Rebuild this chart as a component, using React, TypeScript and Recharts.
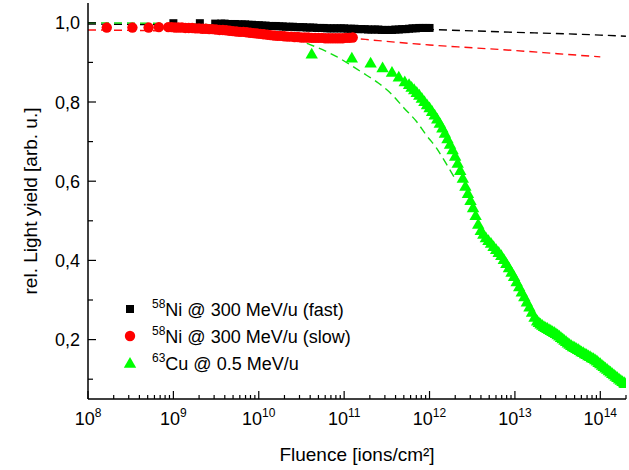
import React from "react";
import { ComposedChart, Scatter, Line, XAxis, YAxis } from "recharts";

// Light-yield degradation vs. fluence. Fluence values are kept as log10 exponents
// (read off the log axis) and turned into real fluences for the log scale.

const FONT = "Liberation Sans, Arial, Helvetica, sans-serif";

// 58Ni @ 300 MeV/u (fast)
const fastLogF = [
  9.0, 9.31, 9.49, 9.56, 9.6, 9.64, 9.68, 9.72, 9.76, 9.8, 9.84, 9.88, 9.92, 9.96, 10.0,
  10.04, 10.08, 10.12, 10.16, 10.2, 10.24, 10.28, 10.32, 10.36, 10.4, 10.44, 10.48, 10.52,
  10.56, 10.6, 10.64, 10.68, 10.72, 10.76, 10.8, 10.84, 10.88, 10.92, 10.96, 11.0, 11.04,
  11.08, 11.12, 11.16, 11.2, 11.24, 11.28, 11.32, 11.36, 11.4, 11.44, 11.48, 11.52, 11.56,
  11.6, 11.64, 11.68, 11.72, 11.76, 11.8, 11.84, 11.88, 11.92, 11.96, 12.0,
];
const fastYield = [
  0.999, 0.999, 0.998, 0.998, 0.998, 0.997, 0.997, 0.997, 0.996, 0.996, 0.996, 0.995, 0.995,
  0.994, 0.994, 0.993, 0.993, 0.992, 0.992, 0.992, 0.991, 0.991, 0.99, 0.99, 0.99, 0.989,
  0.989, 0.989, 0.988, 0.988, 0.988, 0.987, 0.987, 0.987, 0.986, 0.986, 0.986, 0.986, 0.986,
  0.986, 0.985, 0.985, 0.985, 0.984, 0.984, 0.984, 0.983, 0.983, 0.983, 0.983, 0.982, 0.982,
  0.982, 0.982, 0.983, 0.983, 0.984, 0.984, 0.985, 0.986, 0.986, 0.987, 0.987, 0.987, 0.987,
];

// 58Ni @ 300 MeV/u (slow)
const slowLogF = [
  8.22, 8.52, 8.71, 8.83, 8.94, 8.98, 9.02, 9.06, 9.1, 9.14, 9.18, 9.22, 9.26, 9.3, 9.34,
  9.38, 9.42, 9.46, 9.5, 9.54, 9.58, 9.62, 9.66, 9.7, 9.74, 9.78, 9.82, 9.86, 9.9, 9.94,
  9.98, 10.02, 10.06, 10.1, 10.14, 10.18, 10.22, 10.26, 10.3, 10.34, 10.38, 10.42, 10.46,
  10.5, 10.54, 10.58, 10.62, 10.66, 10.7, 10.74, 10.78, 10.82, 10.86, 10.9, 10.94, 10.98,
  11.02, 11.06, 11.1,
];
const slowYield = [
  0.988, 0.988, 0.988, 0.989, 0.989, 0.989, 0.988, 0.988, 0.988, 0.987, 0.987, 0.987, 0.986,
  0.986, 0.985, 0.985, 0.984, 0.984, 0.983, 0.982, 0.982, 0.981, 0.98, 0.979, 0.978, 0.977,
  0.977, 0.976, 0.975, 0.974, 0.973, 0.972, 0.971, 0.97, 0.969, 0.968, 0.967, 0.967, 0.966,
  0.965, 0.965, 0.964, 0.964, 0.963, 0.963, 0.963, 0.962, 0.962, 0.962, 0.962, 0.961, 0.961,
  0.961, 0.961, 0.961, 0.961, 0.962, 0.962, 0.963,
];

// 63Cu @ 0.5 MeV/u
const cuLogF = [
  10.62, 11.09, 11.31, 11.45, 11.56, 11.64, 11.71, 11.76, 11.79, 11.82, 11.85, 11.88, 11.91,
  11.94, 11.97, 12.0, 12.03, 12.06, 12.09, 12.12, 12.15, 12.18, 12.21, 12.24, 12.27, 12.3,
  12.33, 12.36, 12.39, 12.42, 12.45, 12.48, 12.51, 12.54, 12.57, 12.6, 12.63, 12.66, 12.69,
  12.72, 12.75, 12.78, 12.81, 12.84, 12.87, 12.9, 12.93, 12.96, 12.99, 13.02, 13.05, 13.08,
  13.11, 13.14, 13.17, 13.2, 13.23, 13.26, 13.28, 13.3, 13.32, 13.34, 13.36, 13.38, 13.4,
  13.42, 13.44, 13.46, 13.48, 13.5, 13.52, 13.54, 13.56, 13.58, 13.6, 13.62, 13.64, 13.66,
  13.68, 13.7, 13.72, 13.74, 13.76, 13.78, 13.8, 13.82, 13.84, 13.86, 13.88, 13.9, 13.92,
  13.94, 13.96, 13.98, 14.0, 14.02, 14.04, 14.06, 14.08, 14.1, 14.12, 14.14, 14.16, 14.18,
  14.2, 14.22, 14.24, 14.26, 14.28, 14.29,
];
const cuYield = [
  0.922, 0.912, 0.899, 0.887, 0.876, 0.864, 0.852, 0.845, 0.838, 0.832, 0.825, 0.818, 0.81,
  0.802, 0.794, 0.786, 0.777, 0.768, 0.758, 0.747, 0.735, 0.722, 0.708, 0.694, 0.68, 0.664,
  0.646, 0.628, 0.608, 0.588, 0.57, 0.552, 0.534, 0.514, 0.492, 0.476, 0.467, 0.458, 0.451,
  0.444, 0.436, 0.428, 0.421, 0.413, 0.403, 0.393, 0.382, 0.371, 0.36, 0.347, 0.334, 0.321,
  0.309, 0.296, 0.283, 0.27, 0.257, 0.248, 0.244, 0.24, 0.237, 0.234, 0.231, 0.229, 0.226,
  0.224, 0.221, 0.219, 0.216, 0.213, 0.21, 0.206, 0.203, 0.199, 0.196, 0.192, 0.189, 0.186,
  0.183, 0.181, 0.178, 0.176, 0.173, 0.17, 0.168, 0.165, 0.163, 0.16, 0.158, 0.155, 0.153,
  0.15, 0.147, 0.143, 0.14, 0.136, 0.133, 0.129, 0.126, 0.122, 0.119, 0.115, 0.112, 0.108,
  0.105, 0.101, 0.098, 0.095, 0.092, 0.09,
];

// dashed fit curves
const fitFastLogF = [8, 9, 10, 11, 12, 13, 14, 14.3];
const fitFastYield = [0.997, 0.995, 0.992, 0.988, 0.983, 0.976, 0.969, 0.966];
const fitSlowLogF = [8, 9, 10, 11, 11.4, 12, 12.5, 13, 13.5, 14];
const fitSlowYield = [0.982, 0.979, 0.973, 0.963, 0.955, 0.944, 0.937, 0.93, 0.922, 0.914];
const fitCuLogF = [8, 9, 9.5, 10, 10.3, 10.6, 10.9, 11.2, 11.4, 11.55, 11.7, 11.85, 11.96, 12.08, 12.19, 12.3];
const fitCuYield = [1.0, 0.998, 0.994, 0.982, 0.966, 0.945, 0.916, 0.876, 0.848, 0.821, 0.785, 0.75, 0.717, 0.684, 0.646, 0.606];

const xMajorExp = [8, 9, 10, 11, 12, 13, 14];
const yTicks = [0.1, 0.2, 0.3, 0.4, 0.5, 0.6, 0.7, 0.8, 0.9, 1.0];

const toPoints = (lf: number[], ys: number[]) => lf.map((e, i) => ({ x: 10 ** e, y: ys[i] }));

const fastPts = toPoints(fastLogF, fastYield);
const slowPts = toPoints(slowLogF, slowYield);
const cuPts = toPoints(cuLogF, cuYield);
const fitFast = toPoints(fitFastLogF, fitFastYield);
const fitSlow = toPoints(fitSlowLogF, fitSlowYield);
const fitCu = toPoints(fitCuLogF, fitCuYield);

const X_DOMAIN: [number, number] = [1e8, 2e14];
const xTicks: number[] = [];
xMajorExp.forEach((n) => {
  for (let k = 1; k <= 9; k++) {
    const v = k * 10 ** n;
    if (v <= X_DOMAIN[1]) xTicks.push(v);
  }
});

const isMajorX = (v: number) => Math.abs(Math.log10(v) - Math.round(Math.log10(v))) < 1e-6;
const isMajorY = (v: number) => Math.round(v * 10) % 2 === 0;

const BottomTick = ({ x, y, payload }: any) => {
  const major = isMajorX(payload.value);
  return (
    <g>
      <line x1={x} x2={x} y1={y} y2={y - (major ? 8 : 4)} stroke="#000" strokeWidth={1.2} />
      {major && (
        <text x={x} y={y + 26} textAnchor="middle" fontSize={18} fontFamily={FONT} fill="#000">
          10
          <tspan fontSize={12} dy={-8}>
            {Math.round(Math.log10(payload.value))}
          </tspan>
        </text>
      )}
    </g>
  );
};

const TopTick = ({ x, y, payload }: any) => {
  const major = isMajorX(payload.value);
  return <line x1={x} x2={x} y1={y} y2={y + (major ? 8 : 4)} stroke="#000" strokeWidth={1.2} />;
};

const LeftTick = ({ x, y, payload }: any) => {
  const major = isMajorY(payload.value);
  return (
    <g>
      <line x1={x} x2={x + (major ? 8 : 5)} y1={y} y2={y} stroke="#000" strokeWidth={1.2} />
      {major && (
        <text x={x - 8} y={y + 6.5} textAnchor="end" fontSize={18} fontFamily={FONT} fill="#000">
          {payload.value.toFixed(1).replace(".", ",")}
        </text>
      )}
    </g>
  );
};

const RightTick = ({ x, y, payload }: any) => {
  const major = isMajorY(payload.value);
  return <line x1={x} x2={x - (major ? 8 : 5)} y1={y} y2={y} stroke="#000" strokeWidth={1.2} />;
};

const squareShape = (p: any) => <rect x={p.cx - 4} y={p.cy - 4} width={8} height={8} fill="#000" />;
const circleShape = (p: any) => <circle cx={p.cx} cy={p.cy} r={5.2} fill="#ff0000" />;
const triangleShape = (p: any) => (
  <polygon
    points={`${p.cx},${p.cy - 6} ${p.cx + 6.2},${p.cy + 4.8} ${p.cx - 6.2},${p.cy + 4.8}`}
    fill="#00ff00"
  />
);

const legendRows = [
  { sup: "58", text: "Ni @ 300 MeV/u (fast)", kind: "square" },
  { sup: "58", text: "Ni @ 300 MeV/u (slow)", kind: "circle" },
  { sup: "63", text: "Cu @ 0.5 MeV/u", kind: "triangle" },
];

function Overlay() {
  return (
    <svg
      width={629}
      height={470}
      style={{ position: "absolute", left: 0, top: 0, pointerEvents: "none" }}
      fontFamily={FONT}
    >
      {legendRows.map((r, i) => {
        const cy = 309 + i * 27;
        const cx = 130;
        return (
          <g key={r.text}>
            {r.kind === "square" && squareShape({ cx, cy })}
            {r.kind === "circle" && circleShape({ cx, cy })}
            {r.kind === "triangle" && triangleShape({ cx, cy })}
            <text x={152} y={cy + 7} fontSize={18} fill="#000">
              <tspan fontSize={12} dy={-8}>
                {r.sup}
              </tspan>
              <tspan dy={8}>{r.text}</tspan>
            </text>
          </g>
        );
      })}
      <text x={357} y={461} textAnchor="middle" fontSize={19} fill="#000">
        Fluence [ions/cm²]
      </text>
      <text
        x={37}
        y={201}
        textAnchor="middle"
        fontSize={19}
        fill="#000"
        transform="rotate(-90 37 201)"
      >
        rel. Light yield [arb. u.]
      </text>
    </svg>
  );
}

export default function App() {
  const axisLine = { stroke: "#000", strokeWidth: 1.5 };
  return (
    <div style={{ position: "absolute", left: 0, top: 0, width: 629, height: 470, background: "#fff" }}>
      <ComposedChart width={629} height={470} margin={{ top: 3, right: 3, bottom: 0, left: 0 }}>
        <XAxis
          type="number"
          dataKey="x"
          scale="log"
          domain={X_DOMAIN}
          allowDataOverflow
          ticks={xTicks}
          interval={0}
          tick={<BottomTick />}
          tickLine={false}
          tickSize={0}
          tickMargin={0}
          axisLine={axisLine}
          height={71}
        />
        <XAxis
          xAxisId="top"
          orientation="top"
          type="number"
          dataKey="x"
          scale="log"
          domain={X_DOMAIN}
          allowDataOverflow
          ticks={xTicks}
          interval={0}
          tick={<TopTick />}
          tickLine={false}
          tickSize={0}
          tickMargin={0}
          axisLine={axisLine}
          height={0}
        />
        <YAxis
          type="number"
          dataKey="y"
          domain={[0.05, 1.05]}
          allowDataOverflow
          ticks={yTicks}
          interval={0}
          tick={<LeftTick />}
          tickLine={false}
          tickSize={0}
          tickMargin={0}
          axisLine={axisLine}
          width={88}
        />
        <YAxis
          yAxisId="right"
          orientation="right"
          type="number"
          domain={[0.05, 1.05]}
          allowDataOverflow
          ticks={yTicks}
          interval={0}
          tick={<RightTick />}
          tickLine={false}
          tickSize={0}
          tickMargin={0}
          axisLine={axisLine}
          width={0}
        />
        <Scatter data={fastPts} dataKey="y" shape={squareShape} isAnimationActive={false} />
        <Scatter data={slowPts} dataKey="y" shape={circleShape} isAnimationActive={false} />
        <Scatter data={cuPts} dataKey="y" shape={triangleShape} isAnimationActive={false} />
        <Line
          data={fitFast}
          dataKey="y"
          type="monotone"
          stroke="#000"
          strokeWidth={1.4}
          strokeDasharray="8 5"
          dot={false}
          activeDot={false}
          isAnimationActive={false}
        />
        <Line
          data={fitSlow}
          dataKey="y"
          type="monotone"
          stroke="#ff1010"
          strokeWidth={1.4}
          strokeDasharray="8 5"
          dot={false}
          activeDot={false}
          isAnimationActive={false}
        />
        <Line
          data={fitCu}
          dataKey="y"
          type="monotone"
          stroke="#10dd10"
          strokeWidth={1.4}
          strokeDasharray="8 5"
          dot={false}
          activeDot={false}
          isAnimationActive={false}
        />
      </ComposedChart>
      <Overlay />
    </div>
  );
}
